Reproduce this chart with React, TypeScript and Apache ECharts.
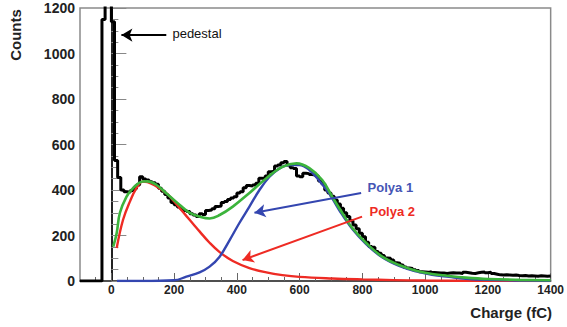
import React, { useEffect, useRef } from "react";
import * as echarts from "echarts";

// Histogram: 10 fC bins starting at -100 fC
const HIST_START = -100;
const BIN_WIDTH = 10;
const histCounts = [
  0, 0, 0, 0, 0, 0, 0, 1150, 1300, 1300,
  1140, 530, 455, 400, 392, 390, 398, 405, 422, 458,
  448, 444, 436, 432, 425, 408, 395, 380, 365, 345,
  335, 325, 318, 310, 305, 296, 290, 283, 296, 292,
  310, 312, 318, 327, 330, 345, 350, 358, 365, 370,
  387, 392, 410, 420, 418, 422, 430, 452, 450, 462,
  480, 482, 505, 510, 520, 525, 510, 498, 494, 462,
  458, 474, 472, 468, 466, 462, 440, 428, 400, 387,
  372, 356, 338, 320, 300, 283, 265, 246, 230, 210,
  195, 170, 152, 148, 130, 122, 112, 101, 100, 92,
  80, 78, 70, 62, 57, 55, 50, 46, 41, 40,
  38, 41, 37, 36, 35, 35, 33, 35, 36, 35,
  35, 33, 38, 36, 34, 33, 36, 38, 40, 36,
  38, 33, 30, 27, 26, 27, 26, 25, 26, 24,
  23, 24, 22, 23, 22, 21, 23, 22, 21, 22,
];

// Total fit (green)
const totalX = [6, 17, 27, 48, 69, 85, 100, 115, 144, 175, 218, 250, 281, 313, 345, 387, 440, 494, 545, 590, 631, 672, 704, 736, 768, 812, 863, 917, 971, 1022, 1076, 1130, 1200, 1300, 1400];
const totalY = [151, 211, 299, 370, 408, 428, 437, 438, 422, 386, 334, 299, 283, 275, 290, 327, 387, 452, 502, 517, 496, 444, 370, 299, 233, 167, 107, 70, 45, 31, 22, 15, 9, 5, 3];

// Polya 2 (red)
const polya2X = [17, 37, 59, 80, 100, 115, 144, 175, 200, 218, 240, 260, 281, 313, 345, 387, 440, 494, 545, 599, 704, 800, 900, 1000, 1200, 1400];
const polya2Y = [145, 268, 349, 408, 437, 435, 415, 386, 350, 320, 284, 252, 218, 168, 127, 88, 57, 38, 26, 18, 11, 7, 4, 2, 1, 0];

// Polya 1 (blue)
const polya1X = [18, 100, 200, 239, 281, 313, 345, 377, 408, 440, 472, 504, 536, 567, 599, 631, 663, 694, 726, 768, 812, 863, 917, 971, 1022, 1076, 1130, 1200, 1300, 1400];
const polya1Y = [0, 0, 3, 19, 38, 63, 107, 180, 255, 327, 400, 458, 495, 510, 510, 488, 440, 385, 312, 228, 162, 104, 66, 42, 27, 18, 10, 5, 2, 1];

const xMajorTicks = [0, 200, 400, 600, 800, 1000, 1200, 1400];
const xMinorTicks = [-50, 50, 100, 150, 250, 300, 350, 450, 500, 550, 650, 700, 750, 850, 900, 950, 1050, 1100, 1150, 1250, 1300, 1350];

// Annotations (data coordinates)
const pedestalArrow = [[175, 1081], [32, 1081]];
const pedestalText = [193, 1090];
const polya1Arrow = [[796, 387], [456, 300]];
const polya1Text = [815, 409];
const polya2Arrow = [[799, 283], [418, 92]];
const polya2Text = [821, 305];

const FONT = "'Liberation Sans', Arial, sans-serif";

export default function App() {
  const ref = useRef<HTMLDivElement>(null);

  useEffect(() => {
    if (!ref.current) return;
    const chart = echarts.init(ref.current, null, { renderer: "svg" });

    const histData: number[][] = histCounts.map((c, i) => [HIST_START + i * BIN_WIDTH, c]);
    histData.push([HIST_START + histCounts.length * BIN_WIDTH, histCounts[histCounts.length - 1]]);

    const zip = (xs: number[], ys: number[]) => xs.map((x, i) => [x, ys[i]]);

    const textPoint = (coord: number[], text: string, color: string, size: number, weight: string) => ({
      symbol: "rect",
      symbolSize: 1,
      silent: true,
      itemStyle: { color: "rgba(0,0,0,0)" },
      label: {
        show: true,
        position: "right",
        distance: 0,
        formatter: text,
        color,
        fontSize: size,
        fontWeight: weight,
        fontFamily: FONT,
      },
      data: [{ coord }],
    });

    const arrow = (pts: number[][], color: string) => ({
      silent: true,
      symbol: ["none", "arrow"],
      symbolSize: [10, 11],
      label: { show: false },
      lineStyle: { color, width: 2, type: "solid" },
      emphasis: { disabled: true },
      data: [[{ coord: pts[0] }, { coord: pts[1] }]],
    });

    const plain = (v: number) => String(v);

    chart.setOption({
      animation: false,
      grid: {
        left: 80,
        right: 15,
        top: 8,
        bottom: 46,
        show: true,
        borderColor: "#8a8a8a",
        borderWidth: 1.5,
        backgroundColor: "transparent",
      },
      xAxis: [
        {
          type: "value",
          min: -100,
          max: 1400,
          axisLine: { show: true, lineStyle: { color: "#333", width: 1.5 } },
          axisTick: {
            show: true,
            inside: true,
            length: 8,
            customValues: xMajorTicks,
            lineStyle: { color: "#666", width: 1 },
          },
          axisLabel: {
            customValues: xMajorTicks,
            formatter: plain,
            fontSize: 12,
            fontWeight: "bold",
            fontFamily: FONT,
            color: "#222",
            margin: 3,
          },
          splitLine: { show: false },
        },
        {
          type: "value",
          min: -100,
          max: 1400,
          position: "bottom",
          axisLine: { show: false },
          axisTick: {
            show: true,
            inside: true,
            length: 4,
            customValues: xMinorTicks,
            lineStyle: { color: "#666", width: 1 },
          },
          axisLabel: { show: false },
          splitLine: { show: false },
        },
      ],
      yAxis: [
        {
          type: "value",
          min: 0,
          max: 1200,
          interval: 200,
          axisLine: { show: true, lineStyle: { color: "#444", width: 1.5 } },
          axisTick: { show: true, inside: true, length: 15, lineStyle: { color: "#888", width: 1 } },
          minorTick: { show: true, splitNumber: 4, length: 7, lineStyle: { color: "#888", width: 1 } },
          axisLabel: {
            formatter: plain,
            fontSize: 14,
            fontWeight: "bold",
            fontFamily: FONT,
            color: "#222",
            margin: 5,
          },
          splitLine: { show: false },
        },
        {
          type: "value",
          min: 0,
          max: 1200,
          position: "right",
          axisLine: { show: true, lineStyle: { color: "#222", width: 2 } },
          axisTick: { show: false },
          axisLabel: { show: false },
          splitLine: { show: false },
        },
      ],
      series: [
        {
          type: "line",
          name: "data",
          step: "end",
          data: histData,
          showSymbol: false,
          symbol: "none",
          lineStyle: { color: "#000", width: 3 },
          itemStyle: { color: "#000" },
          z: 2,
          markLine: arrow(pedestalArrow, "#000"),
          markPoint: textPoint(pedestalText, "pedestal", "#111", 13, "normal"),
        },
        {
          type: "line",
          name: "Polya 2",
          data: zip(polya2X, polya2Y),
          smooth: 0.4,
          showSymbol: false,
          symbol: "none",
          lineStyle: { color: "#ee2b24", width: 2.4 },
          itemStyle: { color: "#ee2b24" },
          z: 3,
          markLine: arrow(polya2Arrow, "#ee2b24"),
          markPoint: textPoint(polya2Text, "Polya 2", "#ee2b24", 13, "bold"),
        },
        {
          type: "line",
          name: "Polya 1",
          data: zip(polya1X, polya1Y),
          smooth: 0.4,
          showSymbol: false,
          symbol: "none",
          lineStyle: { color: "#3446b0", width: 2.4 },
          itemStyle: { color: "#3446b0" },
          z: 3,
          markLine: arrow(polya1Arrow, "#3446b0"),
          markPoint: textPoint(polya1Text, "Polya 1", "#4555b5", 13, "bold"),
        },
        {
          type: "line",
          name: "Total",
          data: zip(totalX, totalY),
          smooth: 0.4,
          showSymbol: false,
          symbol: "none",
          lineStyle: { color: "#3cb43c", width: 2.6 },
          itemStyle: { color: "#3cb43c" },
          z: 4,
        },
      ],
      graphic: [
        {
          type: "text",
          x: 15,
          y: 35,
          rotation: Math.PI / 2,
          style: {
            text: "Counts",
            fill: "#222",
            font: `bold 15px ${FONT}`,
            textAlign: "center",
            textVerticalAlign: "middle",
          },
        },
        {
          type: "text",
          x: 552,
          y: 312,
          style: {
            text: "Charge (fC)",
            fill: "#222",
            font: `bold 15px ${FONT}`,
            textAlign: "right",
            textVerticalAlign: "middle",
          },
        },
      ],
    });

    return () => chart.dispose();
  }, []);

  return (
    <div
      ref={ref}
      style={{ position: "fixed", left: 0, top: 0, width: 567, height: 327, background: "#fff" }}
    />
  );
}
